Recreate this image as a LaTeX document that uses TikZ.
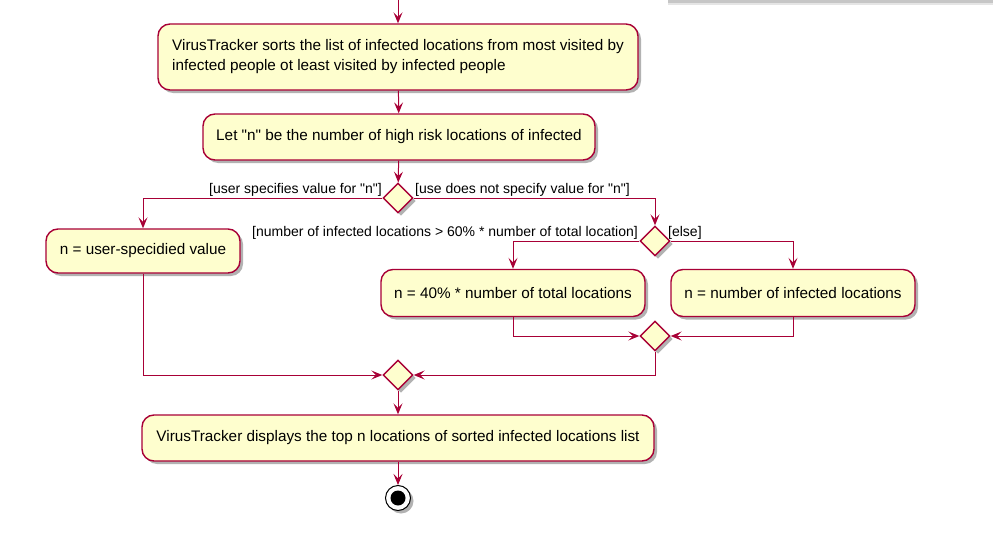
\documentclass[tikz,border=0pt]{standalone}
\usepackage{fontspec}
\setmainfont{Liberation Sans}
\usetikzlibrary{shapes.geometric,arrows.meta,shadows}
\definecolor{umlred}{RGB}{168,0,54}
\definecolor{umlfill}{RGB}{254,254,206}

\begin{document}
\begin{tikzpicture}[x=1pt,y=-1pt,
  act/.style={draw=umlred,fill=umlfill,line width=1.4pt,rounded corners=12pt,
    font=\fontsize{15.3}{20}\selectfont,align=left,inner sep=0pt,
    drop shadow={shadow xshift=3pt,shadow yshift=-3pt,opacity=0.3,fill=black}},
  choice/.style={diamond,draw=umlred,fill=umlfill,line width=1.4pt,inner sep=0pt,
    minimum width=30pt,minimum height=30pt,
    drop shadow={shadow xshift=3pt,shadow yshift=-3pt,opacity=0.3,fill=black}},
  guard/.style={font=\fontsize{14}{16}\selectfont,inner sep=0pt},
  flow/.style={draw=umlred,line width=1pt,-{Stealth[length=11pt,width=9pt,inset=4.5pt]}}]
  \useasboundingbox (0,0) rectangle (993,543);
  \fill[gray!45] (668,0) rectangle (993,3);
  \fill[gray!20] (668,3) rectangle (993,5);
  \coordinate (top) at (398,-2);
  \node[act,minimum width=480pt,minimum height=66pt] (sort) at (398,57)
    {VirusTracker sorts the list of infected locations from most visited by\\
     infected people ot least visited by infected people};
  \node[act,minimum width=392pt,minimum height=46pt] (letn) at (399,137)
    {Let \textquotedbl n\textquotedbl\ be the number of high risk locations of infected};
  \node[choice] (d1) at (398,198) {};
  \node[act,minimum width=194pt,minimum height=44pt] (user) at (143,251)
    {n = user-specidied value};
  \node[choice] (d2) at (655,241) {};
  \node[act,minimum width=264pt,minimum height=47pt] (forty) at (513,293)
    {n = 40\% * number of total locations};
  \node[act,minimum width=244pt,minimum height=47pt] (infct) at (793,293)
    {n = number of infected locations};
  \node[choice] (d3) at (655,336) {};
  \node[choice] (d4) at (398,375) {};
  \node[act,minimum width=512pt,minimum height=46pt] (show) at (398,438)
    {VirusTracker displays the top n locations of sorted infected locations list};
  \node[circle,draw=black,fill=white,line width=1pt,minimum size=25pt,inner sep=0pt,
    drop shadow={shadow xshift=3pt,shadow yshift=-3pt,opacity=0.3,fill=black}] (stop) at (398,498) {};
  \node[circle,fill=black,minimum size=15pt,inner sep=0pt] (stopin) at (stop) {};
  \node[guard,anchor=east] (gyes) at (382,190) {[user specifies value for \textquotedbl n\textquotedbl]};
  \node[guard,anchor=west] (gno) at (415,190) {[use does not specify value for \textquotedbl n\textquotedbl]};
  \node[guard,anchor=east] (gmore) at (638,233) {[number of infected locations > 60\% * number of total location]};
  \node[guard,anchor=west] (gelse) at (668,233) {[else]};
  \draw[flow] (top) -- (sort);
  \draw[flow] (sort) -- (letn);
  \draw[flow] (letn) -- (d1);
  \draw[flow] (d1.west) -| (user.north);
  \draw[flow] (d1.east) -| (d2.north);
  \draw[flow] (d2.west) -| (forty.north);
  \draw[flow] (d2.east) -| (infct.north);
  \draw[flow] (forty.south) |- (d3.west);
  \draw[flow] (infct.south) |- (d3.east);
  \draw[flow] (d3.south) |- (d4.east);
  \draw[flow] (user.south) |- (d4.west);
  \draw[flow] (d4) -- (show);
  \draw[flow] (show) -- (stop);
\end{tikzpicture}
\end{document}
